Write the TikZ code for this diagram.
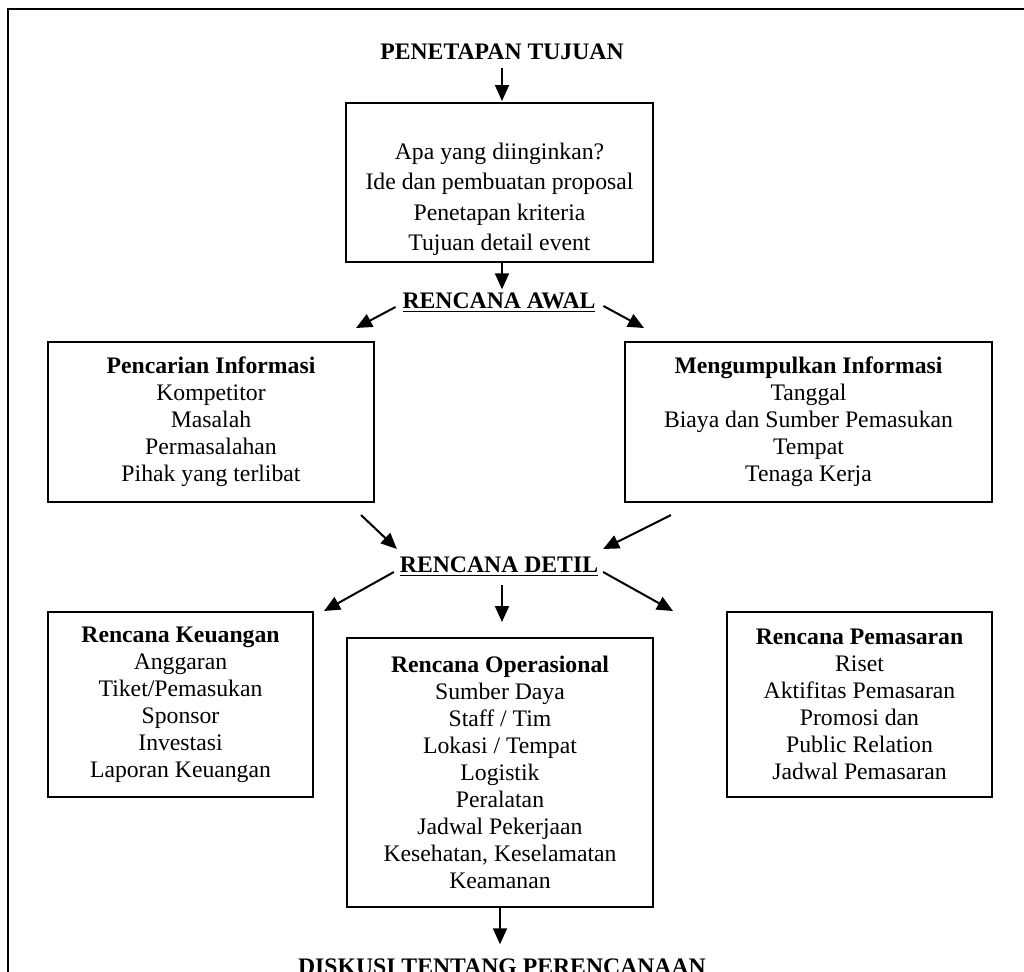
\documentclass[tikz,border=0pt]{standalone}
\usepackage{fontspec}
\setmainfont{Liberation Serif}
\usetikzlibrary{arrows.meta, positioning, calc}

\begin{document}
\begin{tikzpicture}[x=0.5pt, y=-0.5pt, line width=1pt]
        \tikzset{
            judul/.style={font=\fontsize{11.85}{13.5}\selectfont\bfseries, inner sep=0pt, anchor=base},
            kotak/.style={draw, line width=1pt, align=center, inner sep=0pt, font=\fontsize{11.85}{13.5}\selectfont},
            isi/.style={align=center, inner sep=0pt, font=\fontsize{11.85}{15.25}\selectfont},
            panah/.style={-{Triangle[length=8pt, width=7pt]}, line width=1pt}
        }
        \useasboundingbox (0,0) rectangle (1024,971);
        \clip (0,0) rectangle (1024,971);

        % --- frame ---
        \draw (8,1100) -- (8,9) -- (1100,9);

        % --- HEADINGS ---
        \node[judul] (tujuan) at (502,59) {PENETAPAN TUJUAN};
        \node[judul] (awal) at (499,308) {\underline{RENCANA AWAL}};
        \node[judul] (detil) at (499,572) {\underline{RENCANA DETIL}};
        \node[judul] (diskusi) at (502,974) {DISKUSI TENTANG PERENCANAAN};

        % --- BOXES ---
        \node[kotak, minimum width=153.5pt, minimum height=79.5pt] (ide) at (499.5,182.5) {};
        \node[isi] (idetext) at ($(ide.center)+(0,17)$)
            {Apa yang diinginkan?\\Ide dan pembuatan proposal\\Penetapan kriteria\\Tujuan detail event};
        \node[kotak, minimum width=163pt, minimum height=80pt] (cari) at (211,422)
            {\textbf{Pencarian Informasi}\\Kompetitor\\Masalah\\Permasalahan\\Pihak yang terlibat};
        \node[kotak, minimum width=183.5pt, minimum height=80pt] (kumpul) at (808.5,422)
            {\textbf{Mengumpulkan Informasi}\\Tanggal\\Biaya dan Sumber Pemasukan\\Tempat\\Tenaga Kerja};
        \node[kotak, minimum width=132.5pt, minimum height=92.5pt] (uang) at (180.5,704.5)
            {\textbf{Rencana Keuangan}\\Anggaran\\Tiket/Pemasukan\\Sponsor\\Investasi\\Laporan Keuangan};
        \node[kotak, minimum width=153pt, minimum height=134.5pt] (ops) at (500,772.5)
            {\textbf{Rencana Operasional}\\Sumber Daya\\Staff / Tim\\Lokasi / Tempat\\Logistik\\Peralatan\\Jadwal Pekerjaan\\Kesehatan, Keselamatan\\Keamanan};
        \node[kotak, minimum width=132.5pt, minimum height=92.5pt] (pasar) at (859.5,704.5)
            {\textbf{Rencana Pemasaran}\\Riset\\Aktifitas Pemasaran\\Promosi dan\\Public Relation\\Jadwal Pemasaran};

        % Arrows top
        \draw[panah] ($(tujuan.south)+(0,8)$) -- ($(ide.north)+(2.5,-1)$);
        \draw[panah] ($(ide.south)+(2.5,0)$) -- ($(awal.north)+(3,-2)$);

        % Arrows rencana awal
        \draw[panah] ($(awal.base west)+(-6,-1)$) -- ($(cari.north east)+(-19,-13)$);
        \draw[panah] ($(awal.base east)+(7,-2)$) -- ($(kumpul.north west)+(20,-13)$);

        % Arrows into rencana detil
        \draw[panah] ($(cari.south east)+(-14,12)$) -- ($(detil.base west)+(-2,-23)$);
        \draw[panah] ($(kumpul.south west)+(47,12)$) -- ($(detil.base east)+(4,-23)$);

        % Arrows out of rencana detil
        \draw[panah] ($(detil.base west)+(-5,0)$) -- ($(uang.north east)+(10,0)$);
        \draw[panah] ($(detil.base)+(3,13)$) -- ($(ops.north)+(2,-15)$);
        \draw[panah] ($(detil.base east)+(4,0)$) -- ($(pasar.north west)+(-53,0)$);

        % Arrow to diskusi
        \draw[panah] (ops.south) -- ($(diskusi.north)+(-2,-13)$);

    \end{tikzpicture}
\end{document}
